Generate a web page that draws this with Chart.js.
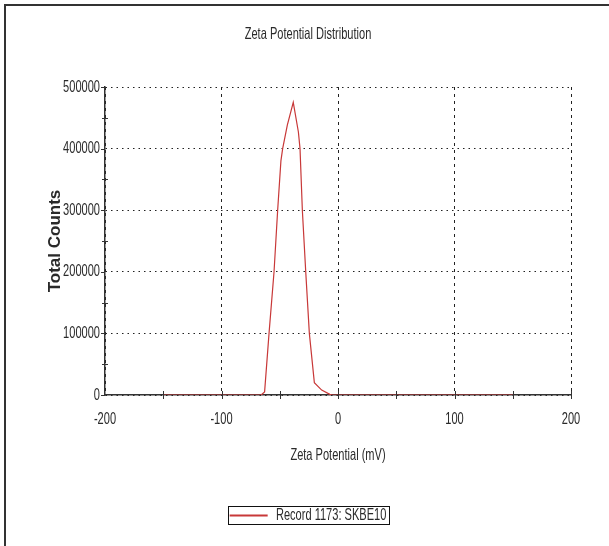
<!DOCTYPE html>
<html>
<head>
<meta charset="utf-8">
<script src="https://cdn.jsdelivr.net/npm/chart.js@4/dist/chart.umd.min.js"></script>
<style>
  html,body{margin:0;padding:0;background:#fff}
  #wrap{width:609px;height:546px}
</style>
</head>
<body>
<div id="wrap"><canvas id="c" width="609" height="546"></canvas></div>
<script>
// Zeta potential distribution, record 1173
const zetaMv = [-150, -66, -63, -59.2, -54.9, -51.8, -49, -47.5, -43.5, -38.4, -34, -32.6, -30.6, -27.7, -24.6, -20.3, -14, -7, -5, 150];
const totalCounts = [0, 0, 5000, 100000, 200000, 300000, 380000, 400000, 438000, 475000, 427000, 400000, 300000, 200000, 100000, 20000, 8000, 1000, 0, 0];
const xTicks = [-200, -100, 0, 100, 200];
const xMinorTicks = [-150, -100, -50, 0, 50, 100, 150, 200];
const yTicks = [0, 100000, 200000, 300000, 400000, 500000];
const yMinorTicks = [50000, 150000, 250000, 350000, 450000];

// no Arial Narrow here, so squeeze Liberation Sans sideways for the "narrow" texts
const NARROW = '"NarrowedSans", "Liberation Sans", Arial, sans-serif';
const SQUEEZE = 0.67;
const FS = 16.5;
const INK = '#2a2a2a';
const RED = '#c83838';

const canvas = document.getElementById('c');
const ctx = canvas.getContext('2d');
const rawFill = CanvasRenderingContext2D.prototype.fillText;
const rawMeasure = CanvasRenderingContext2D.prototype.measureText;
ctx.fillText = function(text, x, y, maxWidth){
  if(this.font.indexOf('NarrowedSans') < 0){
    return maxWidth === undefined ? rawFill.call(this, text, x, y) : rawFill.call(this, text, x, y, maxWidth);
  }
  this.save();
  this.translate(x, y);
  this.scale(SQUEEZE, 1);
  if(maxWidth === undefined) rawFill.call(this, text, 0, 0); else rawFill.call(this, text, 0, 0, maxWidth/SQUEEZE);
  this.restore();
};
ctx.measureText = function(text){
  const m = rawMeasure.call(this, text);
  if(this.font.indexOf('NarrowedSans') < 0) return m;
  return {
    width: m.width*SQUEEZE,
    actualBoundingBoxLeft: m.actualBoundingBoxLeft*SQUEEZE,
    actualBoundingBoxRight: m.actualBoundingBoxRight*SQUEEZE,
    actualBoundingBoxAscent: m.actualBoundingBoxAscent,
    actualBoundingBoxDescent: m.actualBoundingBoxDescent
  };
};

const points = zetaMv.map((x,i)=>({x:x, y:totalCounts[i]}));

// frame, minor ticks and legend box
const decor = {
  id:'decor',
  beforeDraw(chart){
    const c = chart.ctx;
    c.save();
    c.strokeStyle = '#333';
    c.lineWidth = 2;
    c.beginPath();
    c.moveTo(5, 546); c.lineTo(5, 5); c.lineTo(609, 5);
    c.stroke();
    c.restore();
  },
  afterDraw(chart){
    const c = chart.ctx, xs = chart.scales.x, ys = chart.scales.y;
    const y0 = ys.getPixelForValue(0), x0 = xs.getPixelForValue(-200);
    c.save();
    c.strokeStyle = '#333';
    c.lineWidth = 1;
    c.beginPath();
    xMinorTicks.forEach(v=>{
      const p = Math.round(xs.getPixelForValue(v)) + 0.5;
      c.moveTo(p, y0-4); c.lineTo(p, y0+4);
    });
    yTicks.forEach(v=>{
      const p = Math.round(ys.getPixelForValue(v)) + 0.5;
      c.moveTo(x0-4, p); c.lineTo(x0, p);
    });
    yMinorTicks.forEach(v=>{
      const p = Math.round(ys.getPixelForValue(v)) + 0.5;
      c.moveTo(x0-3, p); c.lineTo(x0+3, p);
    });
    c.stroke();
    const hb = chart.legend.legendHitBoxes[0];
    if(hb){
      c.strokeStyle = '#111';
      c.strokeRect(Math.round(hb.left-2)+0.5, Math.round(hb.top-1)+0.5, Math.round(hb.width+4), Math.round(hb.height+1));
    }
    c.restore();
  }
};

new Chart(ctx, {
  type:'line',
  data:{
    datasets:[{
      label:'Record 1173: SKBE10',
      data:points,
      borderColor:RED,
      backgroundColor:RED,
      borderWidth:1.2,
      pointRadius:0,
      tension:0,
      fill:false
    }]
  },
  options:{
    responsive:false,
    animation:false,
    layout:{padding:{left:7, right:0, top:0, bottom:12.25}},
    plugins:{
      title:{
        display:true,
        text:'Zeta Potential Distribution',
        color:INK,
        font:{family:NARROW, size:FS, weight:'normal'},
        padding:{top:24.1, bottom:43.1}
      },
      legend:{
        position:'bottom',
        labels:{
          color:INK,
          font:{family:NARROW, size:FS},
          usePointStyle:true,
          pointStyleWidth:38,
          pointStyle:'line',
          padding:42.25,
          generateLabels:chart=>Chart.defaults.plugins.legend.labels.generateLabels(chart).map(l=>Object.assign(l, {strokeStyle:RED, lineWidth:2}))
        }
      },
      tooltip:{enabled:false}
    },
    scales:{
      x:{
        type:'linear',
        min:-200, max:200,
        afterBuildTicks:s=>{ s.ticks = xTicks.map(v=>({value:v})); },
        afterFit:s=>{ s.height = 70; },
        ticks:{color:INK, font:{family:NARROW, size:FS}, padding:15, maxRotation:0, callback:v=>String(v)},
        grid:{color:'#222', lineWidth:1, drawTicks:false},
        border:{color:'#333', width:1.5, dash:[3,4]},
        title:{display:true, text:'Zeta Potential (mV)', color:INK, font:{family:NARROW, size:FS}, padding:{top:5.1, bottom:0}}
      },
      y:{
        min:0, max:500000,
        afterBuildTicks:s=>{ s.ticks = yTicks.map(v=>({value:v})); },
        afterFit:s=>{ s.width = 98; },
        ticks:{color:INK, font:{family:NARROW, size:FS}, padding:5, callback:v=>String(v)},
        grid:{color:'#222', lineWidth:1, drawTicks:false},
        border:{color:'#333', width:1.5, dash:[1.5,4]},
        title:{display:true, text:'Total Counts', color:INK, font:{family:'"Liberation Sans", Arial, sans-serif', size:17, weight:'bold'}, padding:{top:37.8, bottom:0}}
      },
      yRight:{
        position:'right',
        min:0, max:1,
        afterFit:s=>{ s.width = 38; },
        ticks:{display:false},
        grid:{display:false, drawTicks:false},
        border:{display:false}
      }
    }
  },
  plugins:[decor]
});
</script>
</body>
</html>
